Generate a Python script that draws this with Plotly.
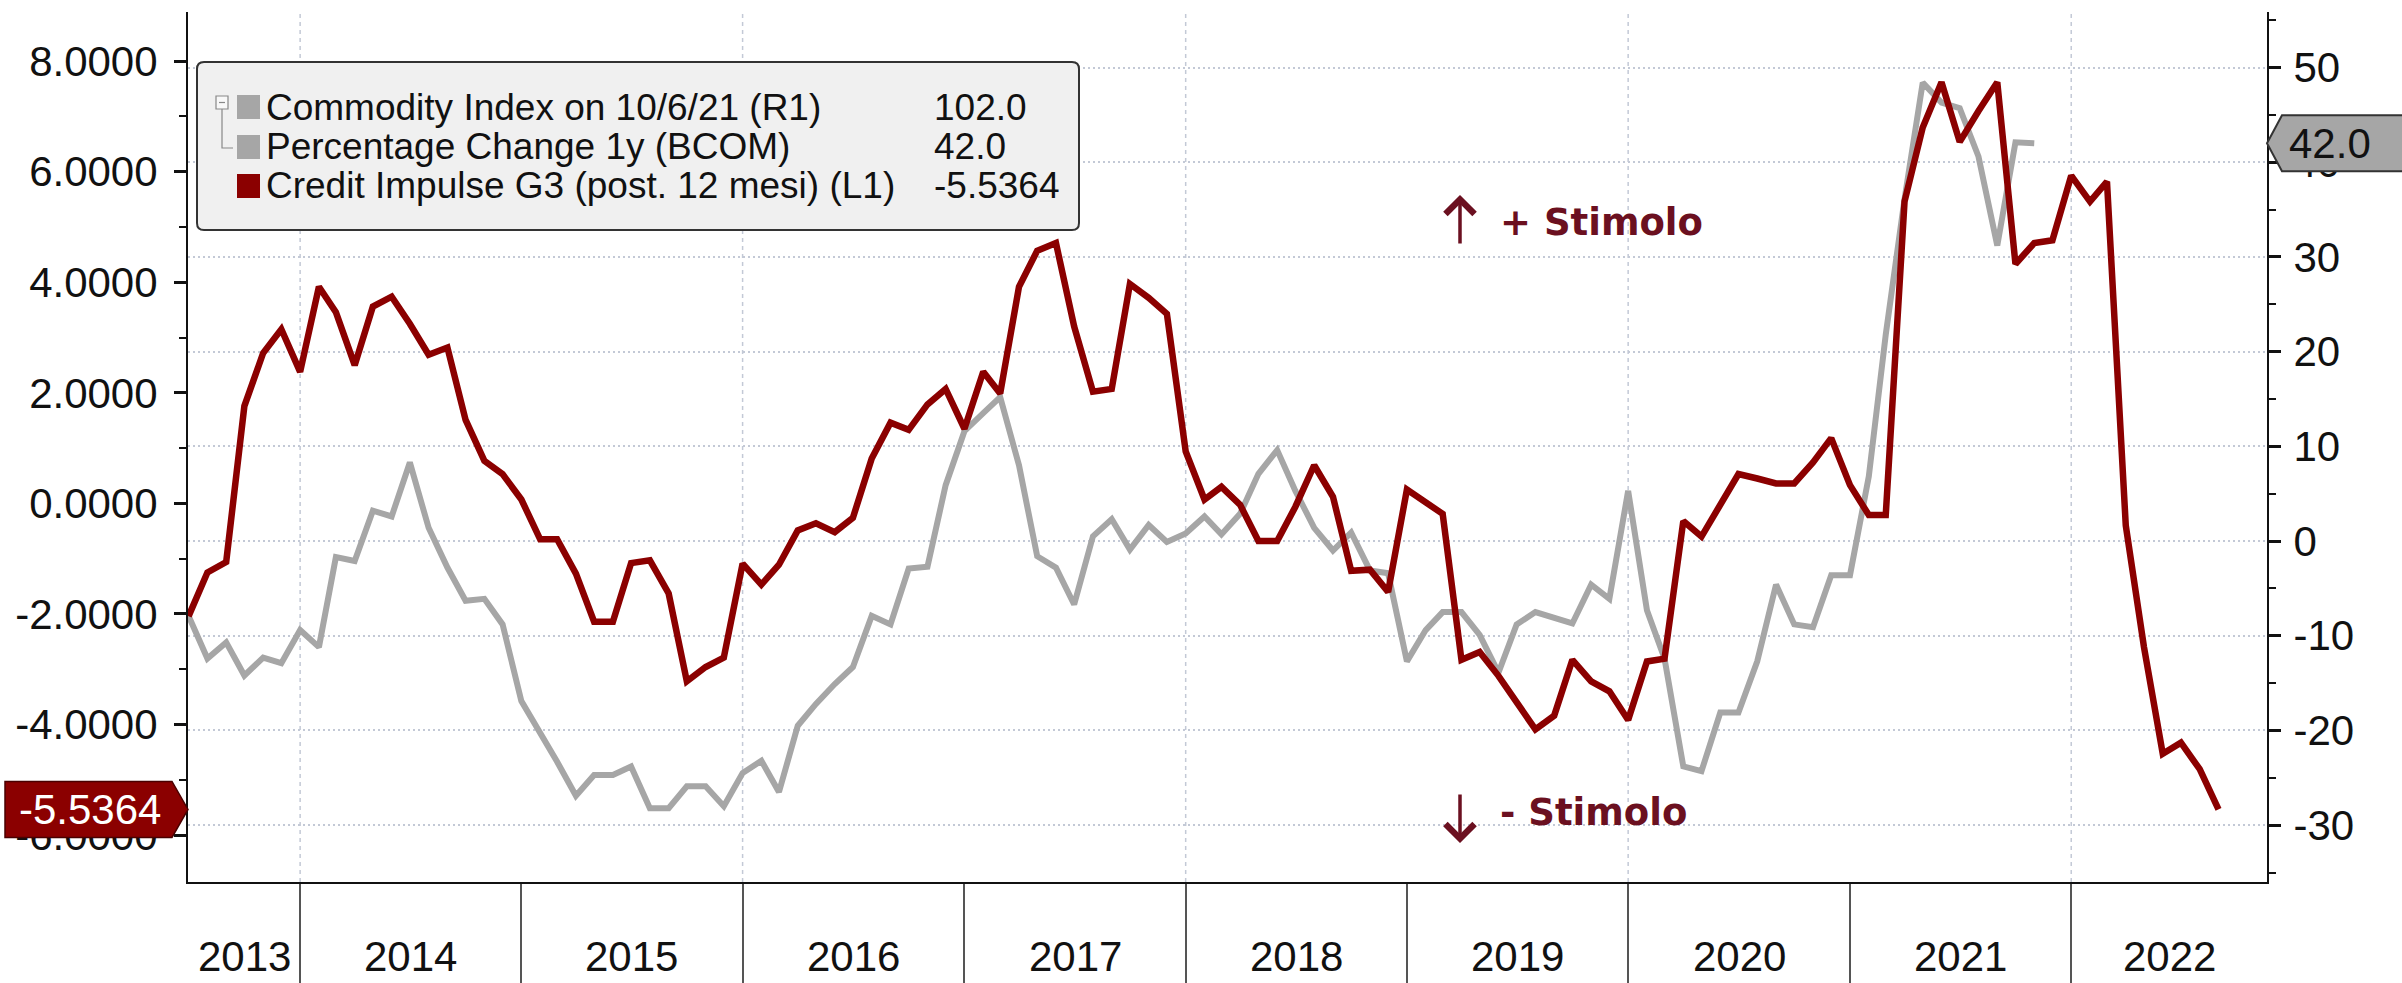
import pandas as pd
import plotly.graph_objects as go

# ---------------- data ----------------
red_start = "2013-07-01"
red_values = [
    -2.04, -1.25, -1.06, 1.76, 2.72, 3.15, 2.38, 3.92, 3.46, 2.50,
    3.56, 3.74, 3.25, 2.69, 2.82, 1.51, 0.77, 0.53, 0.07, -0.65,
    -0.65, -1.27, -2.14, -2.14, -1.08, -1.03, -1.63, -3.22, -2.96, -2.79,
    -1.09, -1.47, -1.11, -0.49, -0.36, -0.52, -0.26, 0.81, 1.46, 1.33,
    1.79, 2.07, 1.35, 2.38, 1.99, 3.92, 4.57, 4.71, 3.20, 2.02,
    2.07, 3.97, 3.72, 3.43, 0.94, 0.07, 0.30, -0.03, -0.68, -0.68,
    -0.06, 0.69, 0.12, -1.22, -1.20, -1.60, 0.25, 0.02, -0.19, -2.83,
    -2.69, -3.12, -3.58, -4.09, -3.84, -2.83, -3.22, -3.40, -3.92, -2.86,
    -2.81, -0.32, -0.60, -0.03, 0.53, 0.45, 0.36, 0.36, 0.74, 1.18,
    0.33, -0.21, -0.21, 5.46, 6.80, 7.62, 6.54, 7.10, 7.62, 4.33,
    4.71, 4.76, 5.93, 5.46, 5.82, -0.40, -2.60, -4.53, -4.33, -4.81,
    -5.5364,
]
grey_start = "2013-07-01"
grey_values = [
    -7.9, -12.4, -10.7, -14.2, -12.3, -12.9, -9.4, -11.2, -1.7, -2.1,
    3.2, 2.6, 8.3, 1.4, -2.8, -6.3, -6.1, -8.8, -16.9, -20.2,
    -23.3, -26.9, -24.7, -24.7, -23.8, -28.2, -28.2, -25.9, -25.9, -28.0,
    -24.5, -23.2, -26.5, -19.5, -17.2, -15.1, -13.3, -7.9, -8.8, -2.9,
    -2.7, 5.9, 11.6, 13.5, 15.2, 8.0, -1.6, -2.8, -6.7, 0.5,
    2.3, -0.9, 1.7, -0.1, 0.8, 2.6, 0.7, 2.9, 7.1, 9.6,
    5.3, 1.4, -1.0, 0.9, -3.1, -3.4, -12.7, -9.4, -7.5, -7.5,
    -9.9, -13.9, -8.8, -7.5, -8.1, -8.7, -4.6, -6.1, 5.3, -7.3,
    -12.4, -23.8, -24.3, -18.1, -18.1, -12.7, -4.6, -8.8, -9.1, -3.6,
    -3.6, 6.8, 21.8, 36.1, 48.4, 46.3, 45.7, 40.6, 31.2, 42.1,
    42.0,
]
years = [2013, 2014, 2015, 2016, 2017, 2018, 2019, 2020, 2021, 2022]
grid_years = [2014, 2016, 2018, 2020, 2022]
left_ticks = [-6, -4, -2, 0, 2, 4, 6, 8]
right_ticks = [-30, -20, -10, 0, 10, 20, 30, 40, 50]

legend_rows = [
    ("Commodity Index on 10/6/21 (R1)", "102.0", "#a6a6a6"),
    ("Percentage Change 1y (BCOM)", "42.0", "#a6a6a6"),
    ("Credit Impulse G3 (post. 12 mesi) (L1)", "-5.5364", "#8b0000"),
]
red_last_label = "-5.5364"
grey_last_label = "42.0"

# ---------------- geometry ----------------
W, H = 2402, 983
PL, PR, PT, PB = 188, 2267, 12, 882
PW, PH = PR - PL, PB - PT
x_range = [pd.Timestamp("2013-06-30"), pd.Timestamp("2022-11-20")]
left_range = [-6.85, 8.89]
right_range = [-36.0, 55.86]

RED = "#8b0000"
GREY = "#a6a6a6"
MAROON = "#6b1020"
GRIDC = "#c3c9d6"
FONT = "Liberation Sans"


def px(x):
    return (x - PL) / PW


def py(y):
    return (PB - y) / PH


red_dates = pd.date_range(red_start, periods=len(red_values), freq="MS")
grey_dates = pd.date_range(grey_start, periods=len(grey_values), freq="MS")

fig = go.Figure()
fig.add_trace(go.Scatter(x=grey_dates, y=grey_values, mode="lines", yaxis="y",
                         line=dict(color=GREY, width=6), hoverinfo="skip"))
fig.add_trace(go.Scatter(x=red_dates, y=red_values, mode="lines", yaxis="y2",
                         line=dict(color=RED, width=6.5), hoverinfo="skip"))

shapes = []
annotations = []

# vertical dashed gridlines every two years
for yv in grid_years:
    shapes.append(dict(type="line", xref="x", yref="paper",
                       x0=pd.Timestamp(f"{yv}-01-01"), x1=pd.Timestamp(f"{yv}-01-01"),
                       y0=0, y1=1, line=dict(color=GRIDC, width=1.5, dash="4px,4px"),
                       layer="below"))

# year labels centred in each visible year
for yv in years:
    s = max(pd.Timestamp(f"{yv}-01-01"), x_range[0])
    e = min(pd.Timestamp(f"{yv + 1}-01-01"), x_range[1])
    mid = s + (e - s) / 2
    annotations.append(dict(x=mid, xref="x", y=-(H - 1 - PB) / PH, yref="paper", text=str(yv),
                            showarrow=False, xanchor="center", yanchor="bottom",
                            font=dict(family=FONT, size=42, color="#111")))

# legend box
r_x, r_y = 7 / PW, 7 / PH
bx0, bx1, by0, by1 = px(197), px(1079), py(230), py(62)
path = (f"M{bx0 + r_x},{by0} L{bx1 - r_x},{by0} Q{bx1},{by0} {bx1},{by0 + r_y} "
        f"L{bx1},{by1 - r_y} Q{bx1},{by1} {bx1 - r_x},{by1} L{bx0 + r_x},{by1} "
        f"Q{bx0},{by1} {bx0},{by1 - r_y} L{bx0},{by0 + r_y} Q{bx0},{by0} {bx0 + r_x},{by0} Z")
shapes.append(dict(type="path", xref="paper", yref="paper", path=path,
                   fillcolor="#f0f0f0", line=dict(color="#333", width=2), layer="above"))
row_y = [107, 147, 186]
for (label, val, col), yc in zip(legend_rows, row_y):
    shapes.append(dict(type="rect", xref="paper", yref="paper",
                       x0=px(237), x1=px(260), y0=py(yc + 12), y1=py(yc - 12),
                       fillcolor=col, line=dict(width=0), layer="above"))
    annotations.append(dict(x=px(264), y=py(yc), xref="paper", yref="paper", text=label,
                            showarrow=False, xanchor="left", yanchor="middle",
                            font=dict(family=FONT, size=37, color="#111")))
    annotations.append(dict(x=px(932), y=py(yc), xref="paper", yref="paper", text=val,
                            showarrow=False, xanchor="left", yanchor="middle",
                            font=dict(family=FONT, size=37, color="#111")))
# tree icon
shapes.append(dict(type="rect", xref="paper", yref="paper", x0=px(216), x1=px(228),
                   y0=py(109), y1=py(96), fillcolor="#f8f8f8",
                   line=dict(color="#888", width=1.2), layer="above"))
shapes.append(dict(type="line", xref="paper", yref="paper", x0=px(219), x1=px(225),
                   y0=py(102.5), y1=py(102.5), line=dict(color="#888", width=1.2), layer="above"))
shapes.append(dict(type="path", xref="paper", yref="paper",
                   path=f"M{px(222)},{py(109)} L{px(222)},{py(148)} L{px(233)},{py(148)}",
                   line=dict(color="#888", width=1.2), layer="above"))

# stimolo annotations
annotations.append(dict(x=px(1498), y=py(222), xref="paper", yref="paper", text="<b>+ Stimolo</b>",
                        showarrow=False, xanchor="left", yanchor="middle",
                        font=dict(family="DejaVu Sans", size=37, color=MAROON)))
annotations.append(dict(x=px(1498), y=py(812), xref="paper", yref="paper", text="<b>- Stimolo</b>",
                        showarrow=False, xanchor="left", yanchor="middle",
                        font=dict(family="DejaVu Sans", size=37, color=MAROON)))
annotations.append(dict(x=px(1460), y=py(195), xref="paper", yref="paper", text="",
                        showarrow=True, ax=0, ay=50, arrowhead=4, arrowsize=1.6,
                        arrowwidth=3.5, arrowcolor=MAROON))
annotations.append(dict(x=px(1460), y=py(843), xref="paper", yref="paper", text="",
                        showarrow=True, ax=0, ay=-50, arrowhead=4, arrowsize=1.6,
                        arrowwidth=3.5, arrowcolor=MAROON))

# last-value tags
v = red_values[-1]
hh = 28 / (PH / (left_range[1] - left_range[0]))
shapes.append(dict(type="path", xref="paper", yref="y2",
                   path=(f"M{px(5)},{v + hh} L{px(172)},{v + hh} L{px(188)},{v} "
                         f"L{px(172)},{v - hh} L{px(5)},{v - hh} Z"),
                   fillcolor=RED, line=dict(color="#4a0000", width=1.5), layer="above"))
annotations.append(dict(x=px(90), y=v, xref="paper", yref="y2", text=red_last_label,
                        showarrow=False, xanchor="center", yanchor="middle",
                        font=dict(family=FONT, size=42, color="white")))
g = grey_values[-1]
hh2 = 28 / (PH / (right_range[1] - right_range[0]))
shapes.append(dict(type="path", xref="paper", yref="y",
                   path=(f"M{px(2267)},{g} L{px(2282)},{g + hh2} L{px(2420)},{g + hh2} "
                         f"L{px(2420)},{g - hh2} L{px(2282)},{g - hh2} Z"),
                   fillcolor=GREY, line=dict(color="#333", width=2), layer="above"))
annotations.append(dict(x=px(2287), y=g, xref="paper", yref="y", text=grey_last_label,
                        showarrow=False, xanchor="left", yanchor="middle",
                        font=dict(family=FONT, size=42, color="#111")))

fig.update_layout(
    width=W, height=H, autosize=False,
    margin=dict(l=PL, r=W - PR, t=PT, b=H - PB, pad=0, autoexpand=False),
    paper_bgcolor="white", plot_bgcolor="white",
    showlegend=False,
    font=dict(family=FONT, size=42, color="#111"),
    xaxis=dict(type="date", range=x_range, automargin=False,
               tickmode="array", tickvals=[pd.Timestamp(f"{y}-01-01") for y in years[1:]],
               showticklabels=False, ticks="outside", ticklen=H - PB, tickwidth=1.5,
               tickcolor="#555", showgrid=False, showline=True, linecolor="#111",
               linewidth=2, zeroline=False),
    yaxis=dict(side="right", range=right_range, tickmode="array", tickvals=right_ticks,
               ticktext=[str(t) for t in right_ticks], automargin=False,
               ticks="outside", ticklen=12, tickwidth=3, tickcolor="#111",
               minor=dict(dtick=5, tick0=0, ticks="outside", ticklen=7, tickwidth=2,
                          tickcolor="#111", showgrid=False),
               showgrid=True, gridcolor=GRIDC, gridwidth=1.5, griddash="2px,3px",
               showline=True, linecolor="#111", linewidth=2, zeroline=False,
               ticklabelstandoff=4, tickfont=dict(family=FONT, size=42, color="#111")),
    yaxis2=dict(overlaying="y", side="left", range=left_range, tickmode="array",
                tickvals=left_ticks, ticktext=[f"{t:.4f}" for t in left_ticks],
                automargin=False,
                ticks="outside", ticklen=12, tickwidth=3, tickcolor="#111",
                minor=dict(dtick=1, tick0=0, ticks="outside", ticklen=7, tickwidth=2,
                           tickcolor="#111", showgrid=False),
                showgrid=False, showline=True, linecolor="#111", linewidth=2,
                zeroline=False, ticklabelstandoff=8,
                tickfont=dict(family=FONT, size=42, color="#111")),
    shapes=shapes,
    annotations=annotations,
)

fig.write_html(
    "out.html",
    config={"displayModeBar": False},
    post_script="document.body.style.margin='0px';document.body.style.overflow='hidden';",
)
